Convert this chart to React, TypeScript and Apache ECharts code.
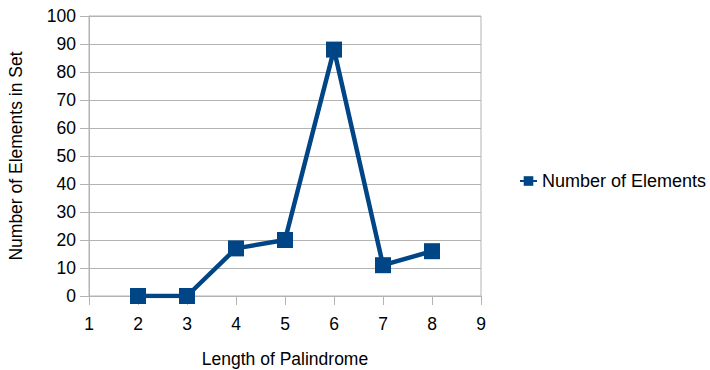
import React, { useEffect, useRef } from "react";
import * as echarts from "echarts";

const lengths = [2, 3, 4, 5, 6, 7, 8];
const counts = [0, 0, 17, 20, 88, 11, 16];
const seriesName = "Number of Elements";

export default function App() {
  const ref = useRef<HTMLDivElement>(null);
  useEffect(() => {
    if (!ref.current) return;
    const chart = echarts.init(ref.current, null, { renderer: "svg" });
    const font = "'Liberation Sans', Arial, sans-serif";
    chart.setOption({
      animation: false,
      textStyle: { fontFamily: font },
      grid: {
        left: 89,
        top: 16,
        width: 392,
        height: 280,
        outerBoundsMode: "none",
        containLabel: false,
        show: true,
        borderColor: "#b3b3b3",
        borderWidth: 1,
      },
      legend: {
        left: 519,
        top: 172,
        padding: 0,
        orient: "vertical",
        itemWidth: 17,
        itemHeight: 12,
        itemGap: 4,
        textStyle: { fontFamily: font, fontSize: 18, color: "#000" },
        data: [seriesName],
      },
      xAxis: {
        type: "value",
        min: 1,
        max: 9,
        interval: 1,
        name: "Length of Palindrome",
        nameLocation: "middle",
        nameGap: 54,
        nameTextStyle: { fontFamily: font, fontSize: 17.5, color: "#000" },
        axisLine: { show: true, lineStyle: { color: "#b3b3b3" } },
        axisTick: { show: true, length: 9, lineStyle: { color: "#b3b3b3" } },
        axisLabel: { fontFamily: font, fontSize: 17.5, color: "#000", margin: 19 },
        splitLine: { show: false },
      },
      yAxis: {
        type: "value",
        min: 0,
        max: 100,
        interval: 10,
        name: "Number of Elements in Set",
        nameLocation: "middle",
        nameGap: 64,
        nameTextStyle: { fontFamily: font, fontSize: 17.5, color: "#000" },
        axisLine: { show: true, lineStyle: { color: "#b3b3b3" } },
        axisTick: { show: true, length: 9, lineStyle: { color: "#b3b3b3" } },
        axisLabel: { fontFamily: font, fontSize: 17.5, color: "#000", margin: 13 },
        splitLine: { show: true, lineStyle: { color: "#b3b3b3" } },
      },
      series: [
        {
          name: seriesName,
          type: "line",
          data: lengths.map((x, i) => [x, counts[i]]),
          symbol: "rect",
          symbolSize: 16,
          lineStyle: { color: "#004586", width: 4.5 },
          itemStyle: { color: "#004586" },
        },
      ],
    });
    return () => chart.dispose();
  }, []);
  return <div ref={ref} style={{ width: 710, height: 370, position: "absolute", left: 0, top: 0 }} />;
}
